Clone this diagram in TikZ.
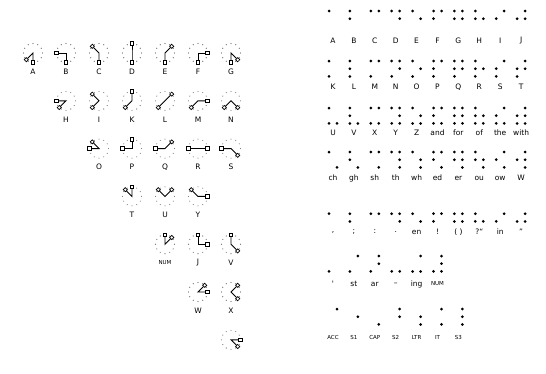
\documentclass[tikz,border=0pt]{standalone}
\usepackage{fontspec}
\setmainfont{DejaVu Sans}
\usepackage{tikz}
\usetikzlibrary{shapes.geometric}

\newcommand\sm{\fontsize{5.5}{6}\selectfont}
% one row of braille cells: name, top dot y, label y, list
\newcommand\brow[4]{%
  \foreach \i/\p/\t in {#4} {
    \foreach \d in \p {
      \pgfmathsetmacro\dx{329+20.9*\i+(\d>3)*8}
      \pgfmathsetmacro\dy{#2+mod(\d-1,3)*7.7}
      \node[bdot] (#1-\i-\d) at (\dx,\dy) {};
    }
    \node[blab] (#1-\i) at ({333+20.9*\i},#3) {\t};
  }}

\begin{document}
\begin{tikzpicture}[x=1pt,y=-1pt,
  ringdot/.style={circle,fill=black!60,inner sep=0pt,minimum size=1.1pt},
  sqmark/.style={rectangle,draw,fill=white,line width=0.8pt,inner sep=0pt,minimum size=3.6pt},
  dmmark/.style={diamond,draw,fill=white,line width=0.7pt,inner sep=0pt,minimum size=4.4pt},
  stroke/.style={line width=0.9pt},
  glab/.style={font=\fontsize{7.5}{8}\selectfont},
  blab/.style={font=\fontsize{7.5}{8}\selectfont},
  bdot/.style={circle,fill=black,inner sep=0pt,minimum size=3pt}]
  \useasboundingbox (0,0) rectangle (546,373);

  % key glyphs, row = first end, column+1 = second end
  \foreach \c/\r/\t in {0/0/A,1/0/B,2/0/C,3/0/D,4/0/E,5/0/F,6/0/G,
      1/1/H,2/1/I,3/1/K,4/1/L,5/1/M,6/1/N,
      2/2/O,3/2/P,4/2/Q,5/2/R,6/2/S,
      3/3/T,4/3/U,5/3/Y,
      4/4/{\sm NUM},5/4/J,6/4/V,
      5/5/W,6/5/X,
      6/6/{}} {
    \pgfmathtruncatemacro\eb{\c+1}
    \begin{scope}[shift={({33+33*\c},{53+47.8*\r})}]
      \foreach \a in {0,30,...,330} \node[ringdot] at (\a:9.5) {};
      \ifodd\r \node[dmmark] (s\c\r) at ({90+45*\r}:9.5) {};
      \else \node[sqmark] (s\c\r) at ({90+45*\r}:9.5) {}; \fi
      \ifodd\eb \node[dmmark] (e\c\r) at ({90+45*\eb}:9.5) {};
      \else \node[sqmark] (e\c\r) at ({90+45*\eb}:9.5) {}; \fi
      \coordinate (k\c\r) at (0,0);
      \draw[stroke] (s\c\r) -- (k\c\r) -- (e\c\r);
      \node[glab] (t\c\r) at (0,18.5) {\t};
    \end{scope}
  }

  % braille table
  \brow{a}{11}{41}{0/{1}/A,1/{1,2}/B,2/{1,4}/C,3/{1,4,5}/D,4/{1,5}/E,
    5/{1,2,4}/F,6/{1,2,4,5}/G,7/{1,2,5}/H,8/{2,4}/I,9/{2,4,5}/J}
  \brow{b}{61}{87}{0/{1,3}/K,1/{1,2,3}/L,2/{1,3,4}/M,3/{1,3,4,5}/N,4/{1,3,5}/O,
    5/{1,2,3,4}/P,6/{1,2,3,4,5}/Q,7/{1,2,3,5}/R,8/{2,3,4}/S,9/{2,3,4,5}/T}
  \brow{c}{108}{133}{0/{1,3,6}/U,1/{1,2,3,6}/V,2/{1,3,4,6}/X,3/{1,3,4,5,6}/Y,
    4/{1,3,5,6}/Z,5/{1,2,3,4,6}/and,6/{1,2,3,4,5,6}/for,7/{1,2,3,5,6}/of,
    8/{2,3,4,6}/the,9/{2,3,4,5,6}/with}
  \brow{d}{152}{178}{0/{1,6}/ch,1/{1,2,6}/gh,2/{1,4,6}/sh,3/{1,4,5,6}/th,
    4/{1,5,6}/wh,5/{1,2,4,6}/ed,6/{1,2,4,5,6}/er,7/{1,2,5,6}/ou,
    8/{2,4,6}/ow,9/{2,4,5,6}/W}
  \brow{e}{206}{232}{0/{2}/{,},1/{2,3}/{;},2/{2,5}/{:},3/{2,5,6}/{.},
    4/{2,6}/en,5/{2,3,5}/{!},6/{2,3,5,6}/{( )},7/{2,3,6}/{?“},
    8/{3,5}/in,9/{3,5,6}/{”}}
  \brow{f}{256}{284}{0/{3}/{\textquotesingle},1/{3,4}/st,2/{3,4,5}/ar,
    3/{3,6}/{–},4/{3,4,6}/ing,5/{3,4,5,6}/{\sm NUM}}
  \brow{g}{309}{337}{0/{4}/{\sm ACC},1/{5}/{\sm S1},2/{6}/{\sm CAP},
    3/{4,5}/{\sm S2},4/{5,6}/{\sm LTR},5/{4,6}/{\sm IT},6/{4,5,6}/{\sm S3}}
\end{tikzpicture}
\end{document}
